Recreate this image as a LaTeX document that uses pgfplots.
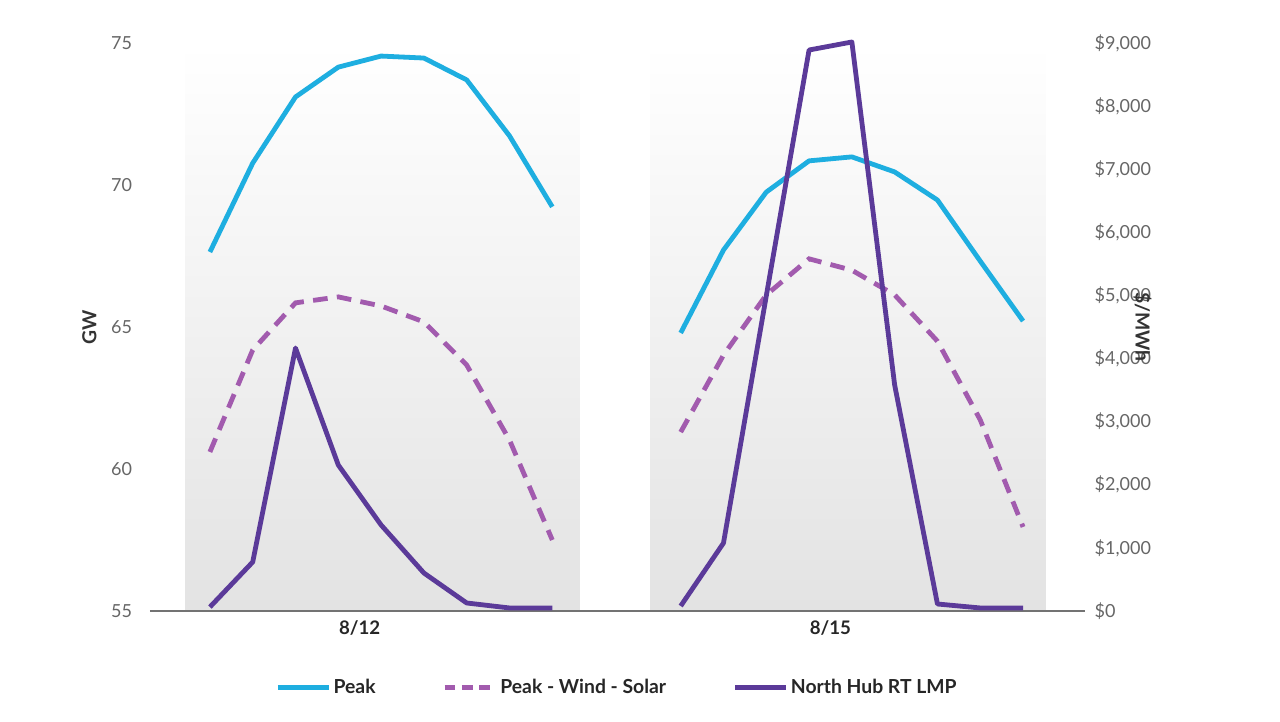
\documentclass[border=0pt]{standalone}
\usepackage{pgfplots}
\pgfplotsset{compat=1.18}
\usepackage{fontspec}
\setmainfont{Lato}
\definecolor{cpeak}{HTML}{1EAEE0}
\definecolor{cpws}{HTML}{A25BAE}
\definecolor{clmp}{HTML}{5B3A99}
\definecolor{ctick}{HTML}{666666}
\begin{document}
\begin{tikzpicture}
\pgfplotsset{
  common/.style={scale only axis, width=701pt, height=426pt,
    xmin=-1.4, xmax=20.44, axis line style={draw=none}, major tick length=0pt,
    tick label style={font=\fontsize{13.5}{16}\selectfont, text=ctick},
    /pgf/number format/assume math mode=true, clip=false}
}
\begin{axis}[common, ymin=55, ymax=75, ytick={55,60,65,70,75},
  xtick={3.5,14.5}, xticklabels={8/12,8/15},
  xticklabel style={font=\fontsize{14}{16}\selectfont\bfseries, text=black!85, yshift=-4pt},
  ylabel={GW}, ylabel style={font=\fontsize{14.5}{16}\selectfont\bfseries, text=black!80, yshift=4pt},
  yticklabel style={xshift=-10pt}]
\fill[top color=white, bottom color=black!11] (axis cs:-0.58,55) rectangle (axis cs:8.64,75);
\fill[top color=white, bottom color=black!11] (axis cs:10.3,55) rectangle (axis cs:19.53,75);
\draw[black!55, line width=1pt] (axis cs:-1.4,55) -- (axis cs:20.44,55);
\addplot[cpeak, line width=3.6pt, line join=round] coordinates {(0,67.64)(1,70.77)(2,73.1)(3,74.15)(4,74.54)(5,74.47)(6,73.7)(7,71.73)(8,69.23)};
\addplot[cpeak, line width=3.6pt, line join=round] coordinates {(11,64.79)(12,67.71)(13,69.75)(14,70.85)(15,70.99)(16,70.46)(17,69.47)(18,67.32)(19,65.21)};
\addplot[cpws, line width=3.6pt, dash pattern=on 11pt off 7pt] coordinates {(0,60.6)(1,64.19)(2,65.85)(3,66.06)(4,65.74)(5,65.18)(6,63.66)(7,61.02)(8,57.5)};
\addplot[cpws, line width=3.6pt, dash pattern=on 11pt off 7pt] coordinates {(11,61.3)(12,64.01)(13,66.13)(14,67.4)(15,67.0)(16,66.13)(17,64.5)(18,61.73)(19,57.96)};
\end{axis}
\begin{axis}[common, ymin=0, ymax=9000, ytick={0,1000,...,9000}, axis y line*=right,
  xtick=\empty,
  yticklabel={\$\pgfmathprintnumber[assume math mode=true,1000 sep={,}]{\tick}},
  yticklabel style={xshift=4pt},
  ylabel={\$/MWh}, ylabel style={font=\fontsize{14.5}{16}\selectfont\bfseries, text=black!80, rotate=180, yshift=-20pt},
  legend columns=3,
  legend style={at={(0.5,-0.11)}, anchor=north, draw=none, fill=none,
    font=\fontsize{14.5}{17}\selectfont\bfseries, text=black!85,
    /tikz/every even column/.append style={column sep=48pt}},
  legend image code/.code={\draw[#1] (0pt,0pt) -- (38pt,0pt);}]
\addlegendimage{cpeak, line width=3.6pt}
\addlegendentry{Peak}
\addlegendimage{cpws, line width=3.6pt, dash pattern=on 8pt off 5pt}
\addlegendentry{Peak - Wind - Solar}
\addplot[clmp, line width=3.6pt, line join=round] coordinates {(0,63)(1,776)(2,4167)(3,2313)(4,1363)(5,602)(6,127)(7,48)(8,48)};
\addlegendentry{North Hub RT LMP}
\addplot[clmp, line width=3.6pt, line join=round, forget plot] coordinates {(11,79)(12,1077)(13,4991)(14,8889)(15,9016)(16,3581)(17,111)(18,48)(19,48)};
\end{axis}
\pgfresetboundingbox
\useasboundingbox (-112.5pt,-82.5pt) rectangle (847.5pt,458.25pt);
\end{tikzpicture}
\end{document}
